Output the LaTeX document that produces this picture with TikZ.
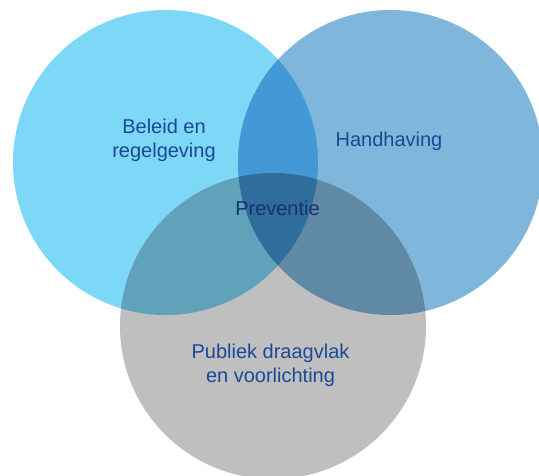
\documentclass[tikz,border=0pt]{standalone}
\usepackage{fontspec}
\setmainfont{Liberation Sans}
\definecolor{cleft}{HTML}{7DD7F7}
\definecolor{cright}{HTML}{7FB6DC}
\definecolor{cbottom}{HTML}{BFBFBF}
\definecolor{clr}{HTML}{4299D6}
\definecolor{clb}{HTML}{5FA2B9}
\definecolor{crb}{HTML}{5F89A4}
\definecolor{call}{HTML}{2E6D9C}
\definecolor{ctext}{HTML}{1C4896}
\definecolor{ctextdark}{HTML}{1A2F78}
\tikzset{
  venn/.style={circle, inner sep=0pt, minimum size=305pt},
  lbl/.style={inner sep=0pt, align=center, text=ctext, font=\fontsize{20}{24}\selectfont},
}
\begin{document}
\begin{tikzpicture}[x=1pt,y=-1pt]
\useasboundingbox (0,0) rectangle (539,475);
% base circles
\node[venn, fill=cleft] (L) at (165.5,162.5) {};
\node[venn, fill=cright] (R) at (390.5,162.5) {};
\node[venn, fill=cbottom, minimum size=306pt] (B) at (273,326) {};
% overlaps
\begin{scope}
  \clip (165.5,162.5) circle (152.5);
  \fill[clr] (390.5,162.5) circle (152.5);
  \fill[clb] (273,326) circle (153);
\end{scope}
\begin{scope}
  \clip (390.5,162.5) circle (152.5);
  \fill[crb] (273,326) circle (153);
\end{scope}
\begin{scope}
  \clip (165.5,162.5) circle (152.5);
  \clip (390.5,162.5) circle (152.5);
  \fill[call] (273,326) circle (153);
\end{scope}
% labels
\node[lbl, anchor=north] (tL) at (164,118.5) {Beleid en\\regelgeving};
\node[lbl, anchor=base] (tR) at (389,146.7) {Handhaving};
\node[lbl, anchor=base, text=ctextdark] (tC) at (277.5,215) {Preventie};
\node[lbl, anchor=north] (tB) at (270.5,343.5) {Publiek draagvlak\\en voorlichting};
\end{tikzpicture}
\end{document}
